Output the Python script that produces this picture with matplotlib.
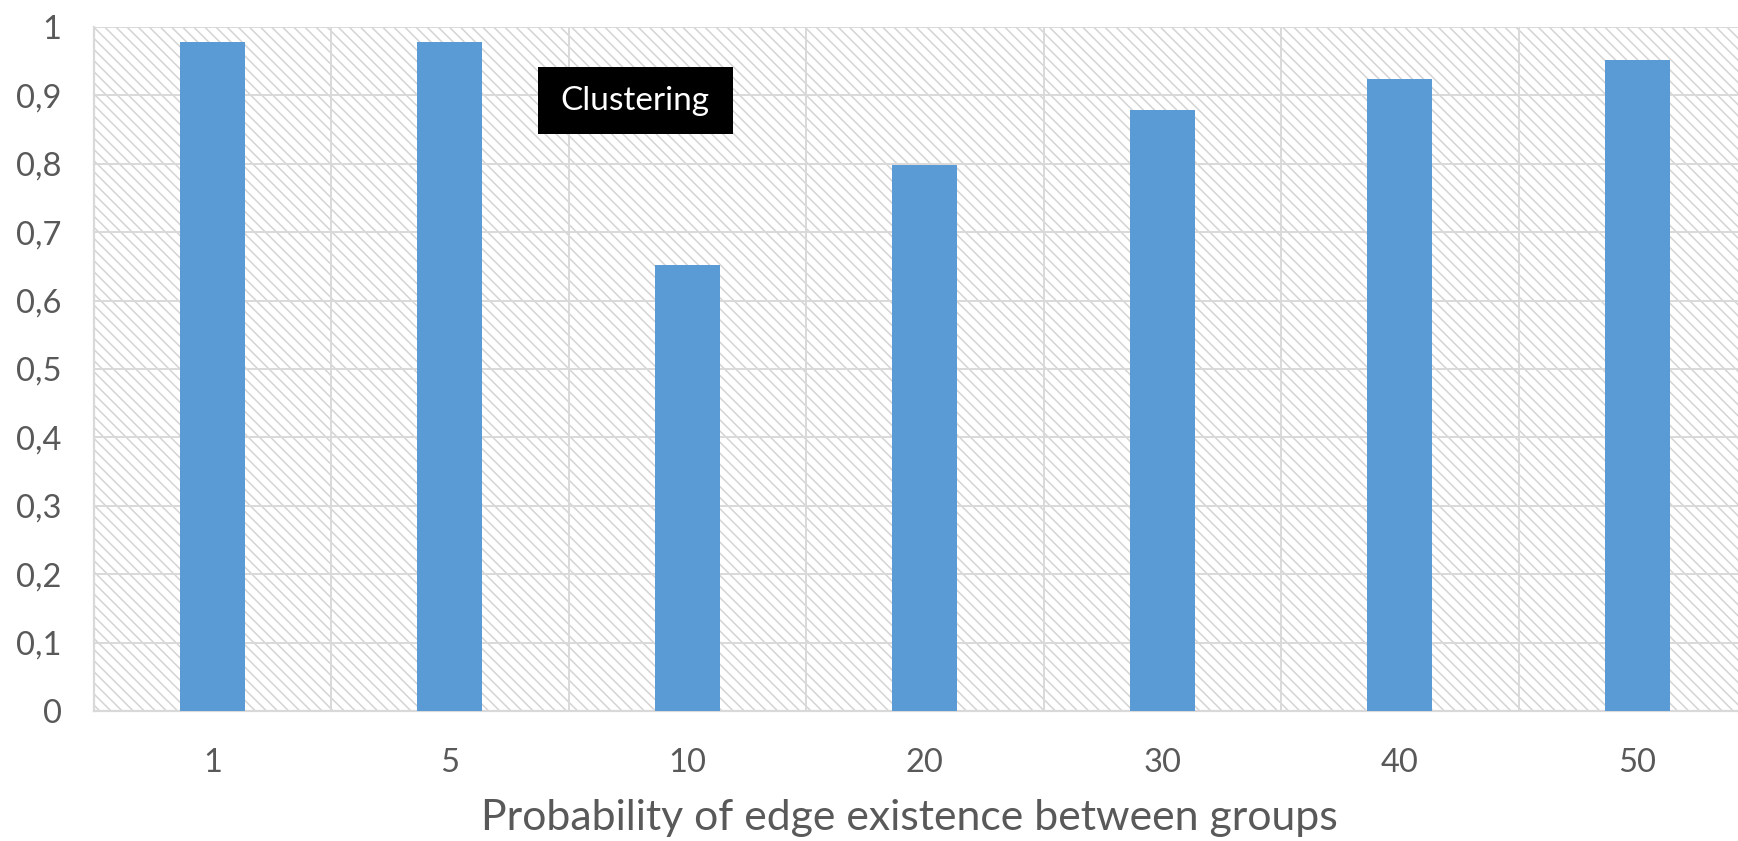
import matplotlib
matplotlib.use("Agg")
import matplotlib.pyplot as plt
from matplotlib.patches import Rectangle

# Clustering score per inter-group edge probability
categories = ["1", "5", "10", "20", "30", "40", "50"]
clustering = [0.978, 0.978, 0.652, 0.798, 0.879, 0.924, 0.952]

y_ticks = [0, 0.1, 0.2, 0.3, 0.4, 0.5, 0.6, 0.7, 0.8, 0.9, 1.0]
y_tick_labels = ["0", "0,1", "0,2", "0,3", "0,4", "0,5", "0,6", "0,7", "0,8", "0,9", "1"]

series_label = "Clustering"
x_title = "Probability of edge existence between groups"

BAR = "#5b9bd5"
GRID = "#d9d9d9"
TEXT = "#595959"

plt.rcParams["font.family"] = ["Lato", "DejaVu Sans"]
plt.rcParams["hatch.linewidth"] = 1.1

fig = plt.figure(figsize=(17.38, 8.41), dpi=100)
ax = fig.add_axes([0.0539, 0.1546, 0.9565, 0.8133])

# hatched plot-area background
bg = Rectangle((0, 0), 1, 1, transform=ax.transAxes, facecolor="white",
               edgecolor="#d4d4d4", hatch="\\\\\\", linewidth=0, zorder=0)
ax.add_patch(bg)
ax.set_facecolor("white")

x = list(range(len(categories)))
ax.bar(x, clustering, width=0.274, color=BAR, zorder=3)

ax.set_xlim(-0.5, len(categories) - 0.5)
ax.set_ylim(0, 1)

ax.set_yticks(y_ticks)
ax.set_yticklabels(y_tick_labels)
ax.set_xticks(x)
ax.set_xticklabels(categories)
ax.set_xticks([i + 0.5 for i in x[:-1]], minor=True)

ax.tick_params(axis="both", which="both", length=0, colors=TEXT, labelsize=23.5)
ax.tick_params(axis="y", pad=23)
ax.tick_params(axis="x", pad=27)

ax.grid(True, axis="y", which="major", color=GRID, linewidth=1.4, zorder=1)
ax.grid(True, axis="x", which="minor", color=GRID, linewidth=1.4, zorder=1)
ax.grid(False, axis="x", which="major")
ax.set_axisbelow(True)

for side in ("top", "right"):
    ax.spines[side].set_visible(False)
for side in ("left", "bottom"):
    ax.spines[side].set_color(GRID)
    ax.spines[side].set_linewidth(1.6)

ax.set_xlabel(x_title, fontsize=30.8, color=TEXT, va="center")
ax.xaxis.set_label_coords(0.4905, -0.157)

# series label box
box = Rectangle((1.37, 0.8436), 0.82, 0.098, facecolor="black",
                edgecolor="none", zorder=4)
ax.add_patch(box)
ax.text(1.78, 0.8925, series_label, color="white", fontsize=24,
        ha="center", va="center", zorder=5)

fig.savefig("out.png", dpi=100)
